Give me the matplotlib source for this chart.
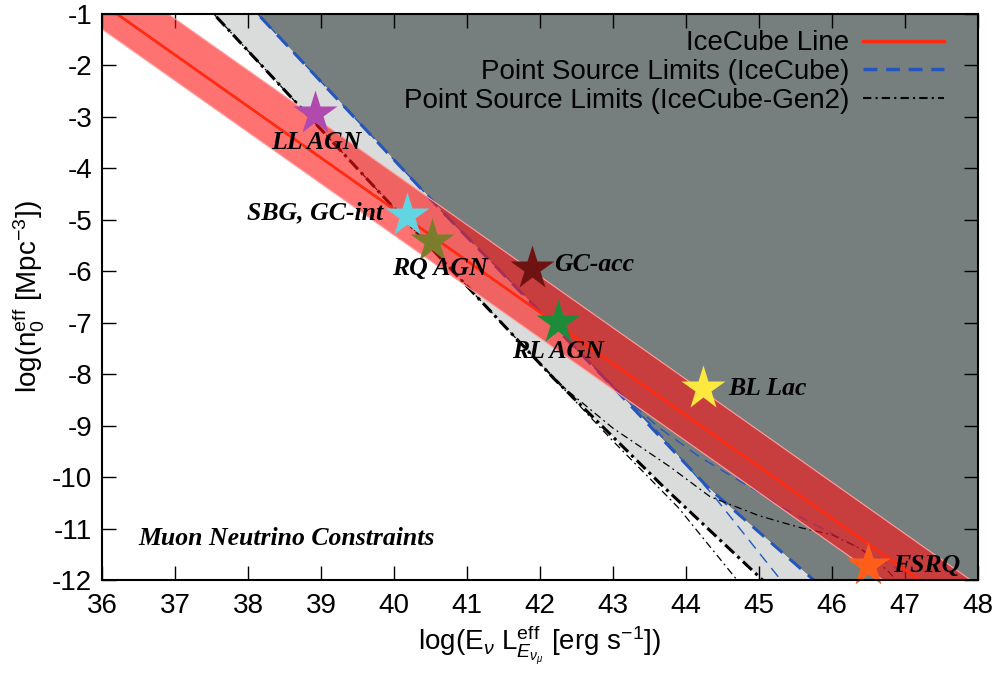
import numpy as np
import matplotlib
matplotlib.use("Agg")
import matplotlib.pyplot as plt
from matplotlib.lines import Line2D

plt.rcParams['font.family'] = ['Liberation Sans', 'DejaVu Sans']
plt.rcParams['mathtext.fontset'] = 'custom'
plt.rcParams['mathtext.rm'] = 'Liberation Sans'
plt.rcParams['mathtext.it'] = 'Liberation Sans:italic'
plt.rcParams['axes.unicode_minus'] = False

# IceCube line (n0 L = const) and its band, end points
ice_x = [35.0, 48.0]
ice_mid = [0.2, -12.8]
ice_lo = [-0.3, -13.3]
ice_hi = [0.9, -12.1]

# point source limits, IceCube (thick = main case, thin = other cases)
ic_thick_x = [37.8, 40.7, 42.9, 44.3, 45.75]
ic_thick_y = [-0.5, -4.9, -8.1, -10.2, -12.0]
ic_steep_x = [37.8, 40.7, 42.5, 43.6, 44.4, 45.3]
ic_steep_y = [-0.5, -4.9, -7.5, -9.1, -10.4, -12.0]
ic_flat_x = [42.4, 43.0, 43.64, 44.19, 45.0, 45.33, 46.25, 46.93, 47.4]
ic_flat_y = [-7.37, -8.25, -9.05, -9.61, -10.3, -10.6, -11.28, -11.81, -12.1]

# point source limits, IceCube-Gen2
g2_thick_x = [37.2, 40.58, 42.2, 43.7, 45.05]
g2_thick_y = [-0.5, -5.66, -8.1, -10.2, -12.0]
g2_steep_x = [37.2, 40.58, 42.0, 43.0, 43.9, 44.7]
g2_steep_y = [-0.5, -5.66, -7.8, -9.3, -10.6, -12.0]
g2_flat_x = [41.9, 42.36, 43.0, 43.78, 44.33, 45.0, 45.56, 46.0, 46.4, 46.75, 46.95]
g2_flat_y = [-7.65, -8.3, -9.05, -9.8, -10.38, -10.75, -10.98, -11.12, -11.4, -11.8, -12.1]

# source classes
src_names = ['LL AGN', 'SBG, GC-int', 'RQ AGN', 'GC-acc', 'RL AGN', 'BL Lac', 'FSRQ']
src_x = [38.92, 40.18, 40.52, 41.89, 42.25, 44.23, 46.49]
src_y = [-2.93, -4.91, -5.42, -5.94, -6.99, -8.27, -11.71]
src_colors = ['#b04aae', '#62d5e3', '#7b7c2c', '#6e1212', '#1e8b3a', '#fde840', '#ff5e1a']
# label anchor (x, y, ha)
lab_x = [38.93, 39.85, 40.63, 42.2, 42.25, 44.58, 46.84]
lab_y = [-3.5, -4.87, -5.94, -5.88, -7.57, -8.28, -11.71]
lab_ha = ['center', 'right', 'center', 'left', 'center', 'left', 'left']

dark_gray = '#777f7e'
light_gray = '#d9dcdb'
blue = '#2456bd'

fig = plt.figure(figsize=(10.03, 6.84), dpi=100)
ax = fig.add_axes([0.1017, 0.152, 0.8733, 0.828])
ax.set_xlim(36, 48)
ax.set_ylim(-12, -1)

# shaded regions bounded by the thick limit curves
yy = np.linspace(-12.2, -0.5, 400)
xb = np.interp(yy, ic_thick_y[::-1], ic_thick_x[::-1])
xk = np.interp(yy, g2_thick_y[::-1], g2_thick_x[::-1])
ax.fill_betweenx(yy, xb, 49, color=dark_gray, lw=0, zorder=1)
ax.fill_betweenx(yy, xk, xb, color=light_gray, lw=0, zorder=1)

# limit curves
ax.plot(ic_thick_x, ic_thick_y, color=blue, lw=2.2, ls=(0, (5, 3)), zorder=3)
ax.plot(ic_steep_x, ic_steep_y, color=blue, lw=1.0, ls=(0, (8, 5)), zorder=3)
ax.plot(ic_flat_x, ic_flat_y, color=blue, lw=1.0, ls=(0, (8, 5)), zorder=3)
ax.plot(g2_thick_x, g2_thick_y, color='black', lw=2.2, ls=(0, (4, 1.5, 1, 1.5)), zorder=3)
ax.plot(g2_steep_x, g2_steep_y, color='black', lw=0.9, ls=(0, (6, 3, 1.5, 3)), zorder=3)
ax.plot(g2_flat_x, g2_flat_y, color='black', lw=0.9, ls=(0, (6, 3, 1.5, 3)), zorder=3)

# IceCube band
ax.fill_between(ice_x, ice_lo, ice_hi, color='#ff1414', alpha=0.6, lw=0, zorder=4)
ax.plot(ice_x, ice_lo, color='#ffa0a0', lw=0.8, zorder=4)
ax.plot(ice_x, ice_hi, color='#ffa0a0', lw=0.8, zorder=4)
ax.plot(ice_x, ice_mid, color='#ff2a10', lw=2.0, zorder=5)

# sources
for i in range(len(src_names)):
    ax.plot(src_x[i], src_y[i], marker='*', ms=33, color=src_colors[i],
            mec='none', zorder=6, clip_on=False)
    ax.text(lab_x[i], lab_y[i], src_names[i], ha=lab_ha[i], va='center',
            family='Liberation Serif', style='italic', weight='bold',
            fontsize=18.5, zorder=7)

ax.text(36.5, -11.19, 'Muon Neutrino Constraints', ha='left', va='center',
        family='Liberation Serif', style='italic', weight='bold', fontsize=18.5)

ax.set_xticks(range(36, 49))
ax.set_yticks(range(-12, 0))
ax.tick_params(direction='in', length=10, width=1, top=True, right=True,
               labelsize=20)
ax.tick_params(axis='x', pad=9)
ax.tick_params(axis='y', pad=7)
for s in ax.spines.values():
    s.set_linewidth(1.5)
    s.set_zorder(10)

ax.set_xlabel(r'log(E$_\nu$ L$_{E_{\nu_\mu}}^{\mathrm{eff}}$ [erg s$^{-1}$])', fontsize=20)
ax.set_ylabel(r'log(n$_0^{\mathrm{eff}}$ [Mpc$^{-3}$])', fontsize=20)

handles = [Line2D([], [], color='#ff2a10', lw=2.5),
           Line2D([], [], color=blue, lw=2.5, ls=(0, (4, 2.5))),
           Line2D([], [], color='black', lw=1.5, ls=(0, (4, 2, 1, 2)))]
labels = ['IceCube Line', 'Point Source Limits (IceCube)',
          'Point Source Limits (IceCube-Gen2)']
leg = ax.legend(handles, labels, loc='upper right', bbox_to_anchor=(0.983, 1.005),
                frameon=False, markerfirst=False, fontsize=20, handlelength=2.9,
                handletextpad=0.5, labelspacing=0.1, borderpad=0.2)
leg.set_zorder(8)

fig.savefig('out.png', dpi=100)
